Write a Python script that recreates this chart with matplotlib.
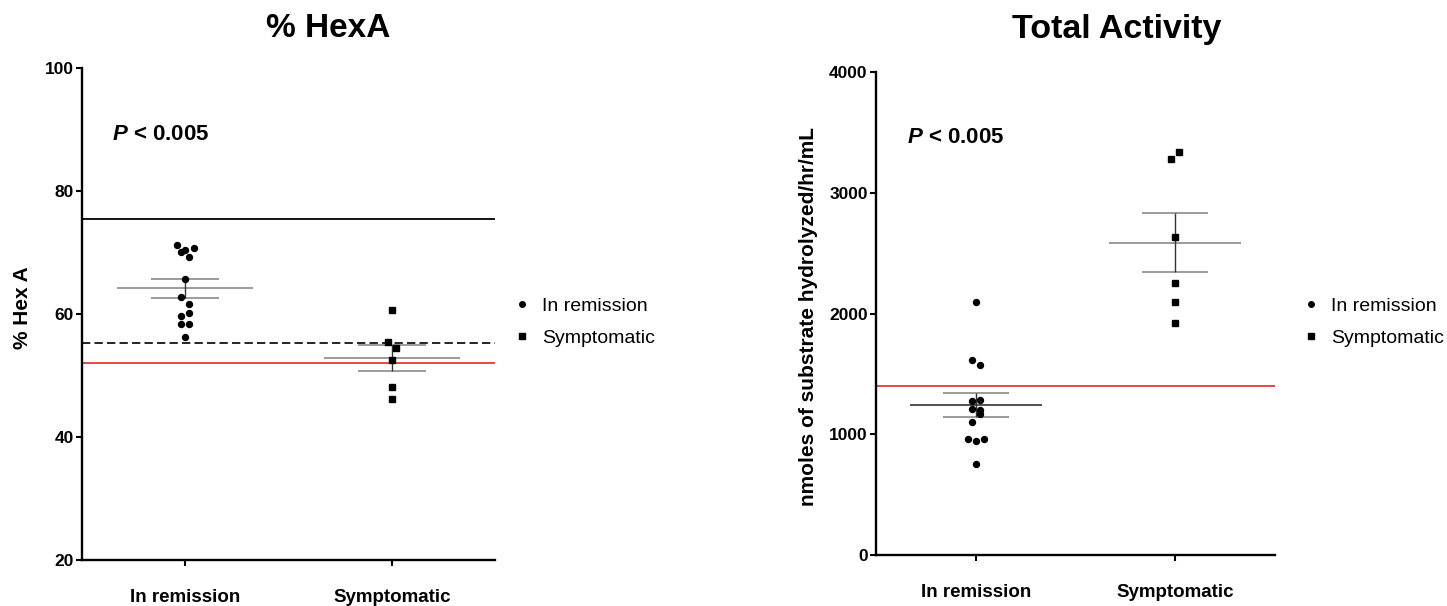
import matplotlib
matplotlib.use('Agg')
import matplotlib.pyplot as plt
from matplotlib.lines import Line2D
import numpy as np

plt.rcParams['font.family'] = ['Liberation Sans', 'DejaVu Sans']
plt.rcParams['mathtext.fontset'] = 'custom'
plt.rcParams['mathtext.it'] = 'Liberation Sans:italic:bold'

groups = ['In remission', 'Symptomatic']

# % HexA panel
hexa_remission = [71.3, 70.8, 70.4, 70.1, 69.2, 65.7, 62.8, 61.6, 60.2, 59.7, 58.3, 58.3, 56.3]
hexa_symptomatic = [60.6, 55.5, 54.4, 52.5, 48.1, 46.2]
hexa_upper_ref = 75.5
hexa_dashed_ref = 55.3
hexa_red_ref = 52.0

# Total activity panel
total_remission = [2095, 1615, 1571, 1286, 1278, 1206, 1201, 1165, 1099, 961, 961, 942, 751]
total_symptomatic = [3340, 3280, 2634, 2250, 2098, 1924]
total_red_ref = 1400

# horizontal jitter (in steps) so the dots don't sit on top of each other
jit_hexa_rem = [-2, 2, 0, -1, 1, 0, -1, 1, 1, -1, -1, 1, 0]
jit_hexa_sym = [0, -1, 1, 0, 0, 0]
jit_tot_rem = [0, -1, 1, 1, -1, -1, 1, 1, -1, -2, 2, 0, 0]
jit_tot_sym = [1, -1, 0, 0, 0, 0]
step = 0.02


def draw_group(ax, xpos, vals, jit, marker, mean_col):
    vals = np.array(vals, dtype=float)
    xs = xpos + step * np.array(jit)
    ax.plot(xs, vals, ls='none', marker=marker, ms=4.3, color='black', zorder=4)
    m = vals.mean()
    sem = vals.std(ddof=1) / np.sqrt(len(vals))
    ax.hlines(m, xpos - 0.33, xpos + 0.33, color=mean_col, lw=1.2, zorder=3)
    ax.hlines([m - sem, m + sem], xpos - 0.165, xpos + 0.165, color='#8a8a8a', lw=1.2, zorder=3)
    ax.vlines(xpos, m - sem, m + sem, color='#333333', lw=1.0, zorder=3)


W, H = 1447, 606
fig = plt.figure(figsize=(W / 100, H / 100), dpi=100)
ax1 = fig.add_axes([82 / W, 1 - 560 / H, (495 - 82) / W, (560 - 68) / H])
ax2 = fig.add_axes([876 / W, 1 - 555 / H, (1275 - 876) / W, (555 - 72) / H])

for ax in (ax1, ax2):
    ax.spines[['top', 'right']].set_visible(False)
    ax.spines[['left', 'bottom']].set_linewidth(1.7)
    ax.set_xlim(-0.5, 1.5)
    ax.set_xticks([0, 1], groups)
    ax.tick_params(axis='y', length=4, width=1.5, pad=2, labelsize=12.5)
    ax.tick_params(axis='x', length=4, width=1.5, pad=17, labelsize=13.5)

ax1.set_ylim(20, 100)
ax1.set_yticks([20, 40, 60, 80, 100])
ax2.set_ylim(0, 4000)
ax2.set_yticks([0, 1000, 2000, 3000, 4000])
for ax in (ax1, ax2):
    for lab in ax.get_xticklabels() + ax.get_yticklabels():
        lab.set_fontweight('bold')

# left panel
ax1.axhline(hexa_upper_ref, color='black', lw=1.3, zorder=2)
ax1.axhline(hexa_dashed_ref, color='black', lw=1.2, ls=(0, (5, 2.5)), zorder=2)
ax1.axhline(hexa_red_ref, color='#e53935', lw=1.3, zorder=2)
draw_group(ax1, 0, hexa_remission, jit_hexa_rem, 'o', '#8a8a8a')
draw_group(ax1, 1, hexa_symptomatic, jit_hexa_sym, 's', '#8a8a8a')

# right panel
ax2.axhline(total_red_ref, color='#e53935', lw=1.3, zorder=2)
draw_group(ax2, 0, total_remission, jit_tot_rem, 'o', '#333333')
draw_group(ax2, 1, total_symptomatic, jit_tot_sym, 's', '#8a8a8a')

# titles, p values, axis labels
fig.text(328 / W, 1 - 37 / H, '% HexA', ha='center', va='baseline', fontsize=24, fontweight='bold')
fig.text(1117 / W, 1 - 38 / H, 'Total Activity', ha='center', va='baseline', fontsize=24.5, fontweight='bold')
fig.text(112 / W, 1 - 140 / H, r'$P$ < 0.005', va='baseline', fontsize=16, fontweight='bold')
fig.text(907 / W, 1 - 143 / H, r'$P$ < 0.005', va='baseline', fontsize=16, fontweight='bold')
fig.text(23 / W, 1 - 308 / H, '% Hex A', rotation=90, ha='center', va='center', fontsize=15, fontweight='bold')
fig.text(808 / W, 1 - 316 / H, 'nmoles of substrate hydrolyzed/hr/mL', rotation=90,
         ha='center', va='center', fontsize=15, fontweight='bold')

# legends
handles = [Line2D([], [], ls='none', marker='o', ms=4, color='black'),
           Line2D([], [], ls='none', marker='s', ms=4, color='black')]
for lx in (512, 1301):
    fig.legend(handles, groups, loc='center left', bbox_to_anchor=(lx / W, 1 - 322 / H),
               bbox_transform=fig.transFigure, frameon=False, fontsize=14,
               handlelength=1.0, handletextpad=0.55, labelspacing=0.75,
               borderpad=0, borderaxespad=0)

fig.savefig('out.png', dpi=100)
